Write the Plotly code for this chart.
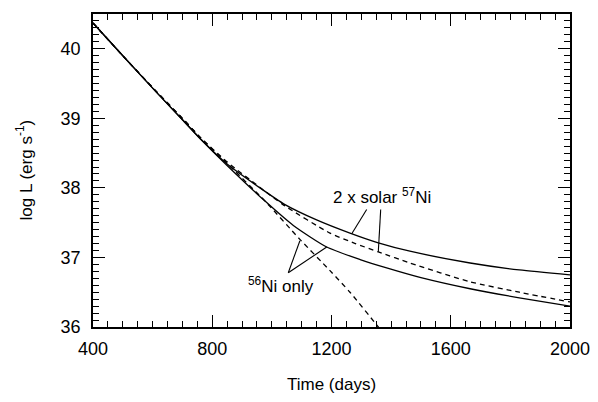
import plotly.graph_objects as go

# ---- data ----
days_solid_57 = [400, 500, 614, 700, 759, 848, 960, 1044, 1150, 1262, 1357, 1463, 1665, 1830, 2000]
logL_solid_57 = [40.37, 39.90, 39.37, 38.98, 38.71, 38.35, 38.00, 37.76, 37.54, 37.35, 37.21, 37.09, 36.92, 36.82, 36.75]

days_dash_57 = [400, 500, 614, 700, 759, 848, 950, 1044, 1195, 1280, 1357, 1463, 1665, 1830, 2000]
logL_dash_57 = [40.37, 39.90, 39.38, 39.00, 38.73, 38.38, 38.04, 37.74, 37.35, 37.20, 37.08, 36.92, 36.65, 36.50, 36.36]

days_solid_56 = [400, 500, 614, 700, 759, 848, 977, 1072, 1184, 1296, 1385, 1500, 1665, 1830, 2000]
logL_solid_56 = [40.37, 39.90, 39.37, 38.98, 38.71, 38.33, 37.81, 37.46, 37.15, 36.97, 36.85, 36.71, 36.55, 36.42, 36.30]

days_dash_56 = [400, 500, 614, 700, 759, 848, 977, 1094, 1195, 1262, 1357, 1400]
logL_dash_56 = [40.37, 39.90, 39.38, 39.00, 38.73, 38.36, 37.81, 37.26, 36.81, 36.50, 36.00, 35.76]

x_ticks = [400, 800, 1200, 1600, 2000]
y_ticks = [36, 37, 38, 39, 40]

FONT = "Liberation Sans, Arial, Helvetica, sans-serif"
LW = 1.3

fig = go.Figure()
fig.add_trace(go.Scatter(x=days_solid_57, y=logL_solid_57, mode="lines",
                         line=dict(color="black", width=LW, shape="spline", smoothing=0.6)))
fig.add_trace(go.Scatter(x=days_dash_57, y=logL_dash_57, mode="lines",
                         line=dict(color="black", width=LW, dash="5px,4px", shape="spline", smoothing=0.6)))
fig.add_trace(go.Scatter(x=days_solid_56, y=logL_solid_56, mode="lines",
                         line=dict(color="black", width=LW, shape="spline", smoothing=0.6)))
fig.add_trace(go.Scatter(x=days_dash_56, y=logL_dash_56, mode="lines",
                         line=dict(color="black", width=LW, dash="5px,4px", shape="spline", smoothing=0.6)))

# pointer lines for the labels
pointers = [
    ((1318, 37.69), (1268, 37.34)),
    ((1365, 37.69), (1357, 37.08)),
    ((1055, 36.78), (1094, 37.24)),
    ((1055, 36.78), (1184, 37.15)),
]
for (x0, y0), (x1, y1) in pointers:
    fig.add_shape(type="line", x0=x0, y0=y0, x1=x1, y1=y1, xref="x", yref="y",
                  line=dict(color="black", width=1.1))

fig.add_annotation(x=1370, y=37.88, xref="x", yref="y", showarrow=False,
                   text="2 x solar <sup>57</sup>Ni", font=dict(size=17, color="black", family=FONT),
                   xanchor="center", yanchor="middle")
fig.add_annotation(x=1029, y=36.61, xref="x", yref="y", showarrow=False,
                   text="<sup>56</sup>Ni only", font=dict(size=17, color="black", family=FONT),
                   xanchor="center", yanchor="middle")

# axis titles
fig.add_annotation(x=0.5, y=0, xref="paper", yref="paper", yshift=-57, showarrow=False,
                   text="Time (days)", font=dict(size=17, color="black", family=FONT),
                   xanchor="center", yanchor="middle")
fig.add_annotation(x=0, y=0.5, xref="paper", yref="paper", xshift=-69, showarrow=False,
                   text="log L (erg s<sup>-1</sup>)", textangle=-90,
                   font=dict(size=17, color="black", family=FONT),
                   xanchor="center", yanchor="middle")

axis_common = dict(
    showgrid=False, zeroline=False, showline=True, linecolor="black", linewidth=1.5,
    mirror="ticks", ticks="inside", ticklen=12, tickwidth=1.3, tickcolor="black",
    tickfont=dict(size=18, color="black", family=FONT),
)
fig.update_xaxes(range=[400, 2000], tickvals=x_ticks, ticktext=[str(v) for v in x_ticks],
                 minor=dict(dtick=50, tick0=400, ticks="inside", ticklen=6, tickwidth=1.1, tickcolor="black"),
                 ticklabelstandoff=5, **axis_common)
fig.update_yaxes(range=[36, 40.5], tickvals=y_ticks, ticktext=[str(v) for v in y_ticks],
                 minor=dict(dtick=0.1, tick0=36, ticks="inside", ticklen=6, tickwidth=1.1, tickcolor="black"),
                 ticklabelstandoff=7, **axis_common)

# the page body adds an 8px margin, so the figure is sized/offset to compensate
fig.update_layout(
    width=590, height=394, showlegend=False,
    margin=dict(l=85, r=28, t=4, b=75),
    paper_bgcolor="white", plot_bgcolor="white",
)

fig.write_html("out.html")
